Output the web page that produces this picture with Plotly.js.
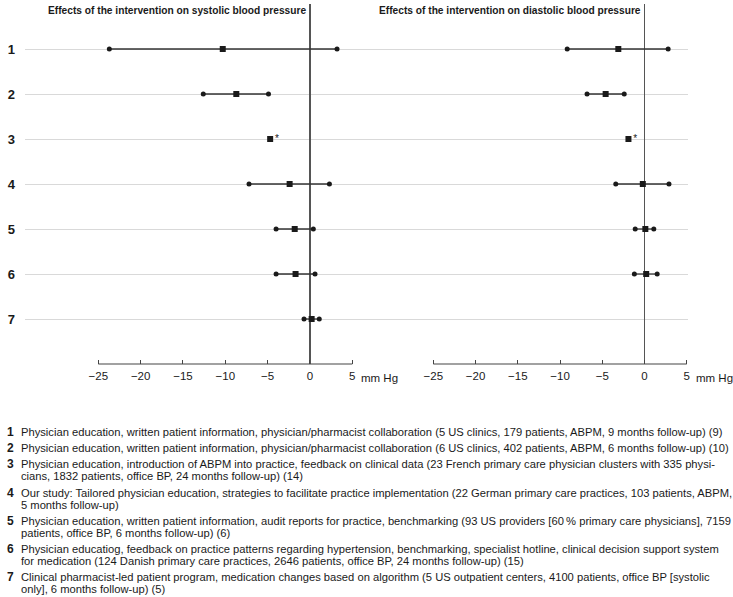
<!DOCTYPE html>
<html>
<head>
<meta charset="utf-8">
<script src="https://cdn.plot.ly/plotly-3.0.1.min.js"></script>
<style>
html,body{margin:0;padding:0;background:#fff;}
#chart{width:733px;height:597px;}
</style>
</head>
<body>
<div id="chart"></div>
<script>
// ---- data ----
var rows = [1, 2, 3, 4, 5, 6, 7];
var rowLabels = ["1", "2", "3", "4", "5", "6", "7"];
var sysMean = [-10.3, -8.7, -4.7, -2.4, -1.8, -1.7, 0.2];
var sysLow  = [-23.7, -12.6, null, -7.2, -4.0, -4.0, -0.7];
var sysHigh = [3.2, -4.9, null, 2.3, 0.4, 0.6, 1.1];
var sysMark = ["", "", "*", "", "", "", ""];
var diaMean = [-3.1, -4.6, -1.9, -0.2, 0.1, 0.2, null];
var diaLow  = [-9.15, -6.8, null, -3.4, -1.1, -1.2, null];
var diaHigh = [2.8, -2.4, null, 2.9, 1.1, 1.5, null];
var diaMark = ["", "", "*", "", "", "", ""];
var tickVals = [-25, -20, -15, -10, -5, 0, 5];
var tickText = ["\u221225", "\u221220", "\u221215", "\u221210", "\u22125", "0", "5"];
var unitLabel = "mm Hg";
var titleSys = "Effects of the intervention on systolic blood pressure";
var titleDia = "Effects of the intervention on diastolic blood pressure";
var notes = [
  ["1", ["Physician education, written patient information, physician/pharmacist collaboration (5 US clinics, 179 patients, ABPM, 9 months follow-up) (9)"]],
  ["2", ["Physician education, written patient information, physician/pharmacist collaboration (6 US clinics, 402 patients, ABPM, 6 months follow-up) (10)"]],
  ["3", ["Physician education, introduction of ABPM into practice, feedback on clinical data (23 French primary care physician clusters with 335 physi-", "cians, 1832 patients, office BP, 24 months follow-up) (14)"]],
  ["4", ["Our study: Tailored physician education, strategies to facilitate practice implementation (22 German primary care practices, 103 patients, ABPM,", "5 months follow-up)"]],
  ["5", ["Physician education, written patient information, audit reports for practice, benchmarking (93 US providers [60\u202f% primary care physicians], 7159", "patients, office BP, 6 months follow-up) (6)"]],
  ["6", ["Physician educatiog, feedback on practice patterns regarding hypertension, benchmarking, specialist hotline, clinical decision support system", "for medication (124 Danish primary care practices, 2646 patients, office BP, 24 months follow-up) (15)"]],
  ["7", ["Clinical pharmacist-led patient program, medication changes based on algorithm (5 US outpatient centers, 4100 patients, office BP [systolic", "only], 6 months follow-up) (5)"]]
];

// ---- layout constants (pixels) ----
var W = 733, H = 597;
var FONT = "'Liberation Sans', Arial, sans-serif";
var INK = "#1a1a1a";
var plotTop = 4, plotBottom = 364;

function ciTrace(low, high, xa) {
  var x = [], y = [];
  for (var i = 0; i < rows.length; i++) {
    if (low[i] === null || high[i] === null) continue;
    x.push(low[i], high[i], null); y.push(rows[i], rows[i], null);
  }
  return {type: "scatter", mode: "lines+markers", x: x, y: y, xaxis: xa, yaxis: "y",
    line: {color: "#333", width: 1.3}, marker: {symbol: "circle", size: 5, color: INK},
    hoverinfo: "skip", showlegend: false, cliponaxis: false};
}
function meanTrace(mean, mark, xa) {
  return {type: "scatter", mode: "markers+text", x: mean, y: rows, xaxis: xa, yaxis: "y",
    text: mark, textposition: "middle right", textfont: {family: FONT, size: 10, color: INK},
    marker: {symbol: "square", size: 6, color: INK}, showlegend: false, cliponaxis: false};
}

var data = [
  ciTrace(sysLow, sysHigh, "x"), meanTrace(sysMean, sysMark, "x"),
  ciTrace(diaLow, diaHigh, "x2"), meanTrace(diaMean, diaMark, "x2")
];

var yDom = [1 - plotBottom / H, 1 - plotTop / H];
function xAxis(domPx, range) {
  return {domain: [domPx[0] / W, domPx[1] / W], range: range, showgrid: false,
    zeroline: true, zerolinecolor: "#555", zerolinewidth: 1.2,
    tickmode: "array", tickvals: tickVals, ticktext: tickText,
    ticks: "inside", ticklen: 4, tickcolor: "#444", tickwidth: 1, ticklabelstandoff: 3,
    showline: false, tickfont: {family: FONT, size: 11.5, color: INK}, fixedrange: true};
}
var layout = {
  width: W, height: H, margin: {l: 0, r: 0, t: 0, b: 0},
  paper_bgcolor: "#fff", plot_bgcolor: "rgba(0,0,0,0)", showlegend: false,
  xaxis: Object.assign(xAxis([25, 372], [-33.66, 7.33]), {anchor: "y"}),
  xaxis2: Object.assign(xAxis([372, 688], [-32.26, 5.15]), {anchor: "y"}),
  yaxis: {domain: yDom, range: [8, 0], tickmode: "array", tickvals: rows,
    ticktext: rowLabels.map(function (s) { return "<b>" + s + "</b>"; }),
    showgrid: true, gridcolor: "#d9d9d9", gridwidth: 1, zeroline: false, showline: false,
    ticks: "", ticklabelstandoff: 9, tickfont: {family: FONT, size: 13, color: INK}, fixedrange: true},
  shapes: [
    {type: "line", xref: "x", yref: "paper", x0: tickVals[0], x1: tickVals[tickVals.length - 1], y0: yDom[0], y1: yDom[0], line: {color: "#444", width: 1.2}},
    {type: "line", xref: "x2", yref: "paper", x0: tickVals[0], x1: tickVals[tickVals.length - 1], y0: yDom[0], y1: yDom[0], line: {color: "#444", width: 1.2}}
  ],
  annotations: []
};
// panel titles
layout.annotations.push({xref: "x", yref: "paper", x: 0, y: 1 - 3 / H, xanchor: "right", yanchor: "top", xshift: -2,
  text: "<b>" + titleSys + "</b>", showarrow: false, font: {family: FONT, size: 10.2, color: INK}});
layout.annotations.push({xref: "x2", yref: "paper", x: 0, y: 1 - 3 / H, xanchor: "right", yanchor: "top", xshift: -2,
  text: "<b>" + titleDia + "</b>", showarrow: false, font: {family: FONT, size: 10.2, color: INK}});
// unit labels
["x", "x2"].forEach(function (xr) {
  layout.annotations.push({xref: xr, yref: "paper", x: tickVals[tickVals.length - 1], y: 1 - 378 / H, xanchor: "left", yanchor: "middle", xshift: 7,
    text: unitLabel, showarrow: false, font: {family: FONT, size: 11.5, color: INK}});
});
// footnotes
var yLine = 432, s = 12, g = 16.2;
notes.forEach(function (n, i) {
  if (i > 0) yLine += g;
  layout.annotations.push({xref: "paper", yref: "paper", x: 10 / W, y: 1 - yLine / H, xanchor: "center", yanchor: "middle",
    text: "<b>" + n[0] + "</b>", showarrow: false, font: {family: FONT, size: 12, color: INK}});
  n[1].forEach(function (line, j) {
    if (j > 0) yLine += s;
    layout.annotations.push({xref: "paper", yref: "paper", x: 19 / W, y: 1 - yLine / H, xanchor: "left", yanchor: "middle",
      text: line, showarrow: false, font: {family: FONT, size: 11.2, color: INK}});
  });
});

Plotly.newPlot("chart", data, layout, {displayModeBar: false, staticPlot: true});
</script>
</body>
</html>
